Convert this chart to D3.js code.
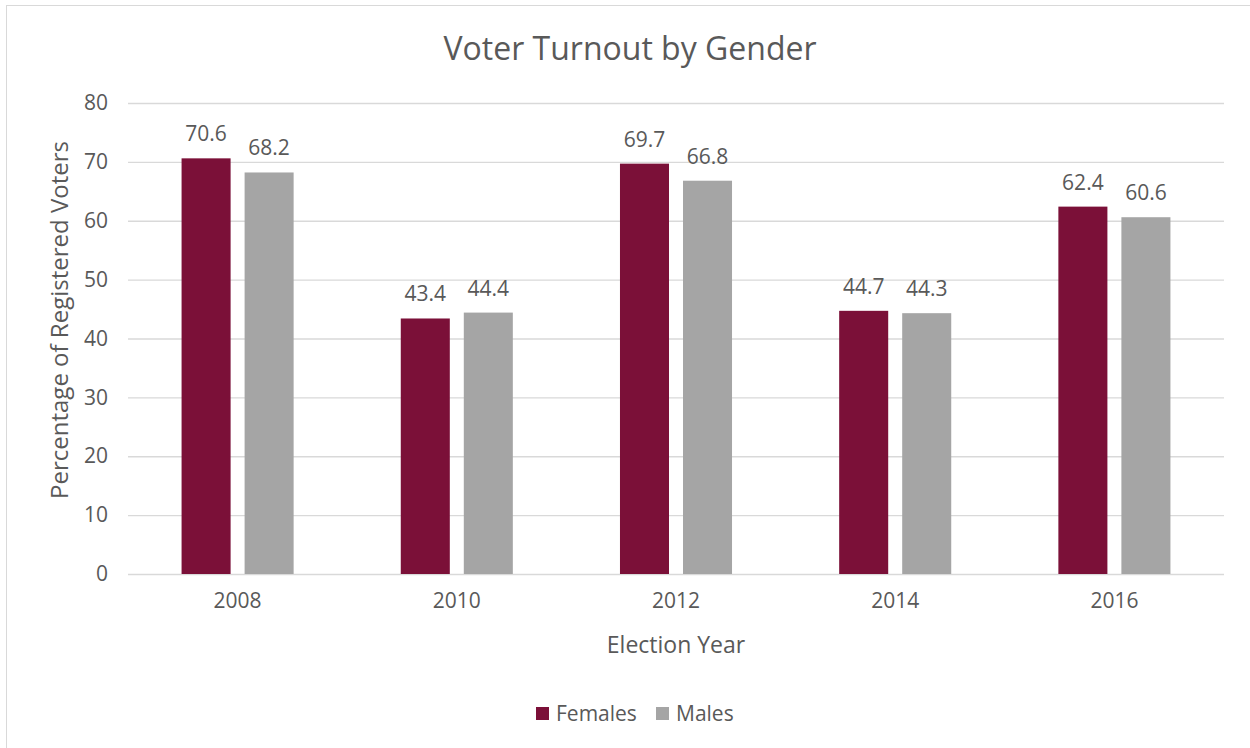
<!DOCTYPE html>
<html><head><meta charset="utf-8">
<script src="https://cdn.jsdelivr.net/npm/d3@7"></script>
<style>body{margin:0;background:#fff;}svg{display:block;font-family:"Open Sans",sans-serif;}</style>
</head><body><svg id="c" width="1250" height="748"></svg>
<script>
const years = ["2008","2010","2012","2014","2016"];
const seriesNames = ["Females","Males"];
const females = [70.6,43.4,69.7,44.7,62.4];
const males = [68.2,44.4,66.8,44.3,60.6];
const yTicks = [0,10,20,30,40,50,60,70,80];
const colors = ["#7B1038","#A5A5A5"];
const textColor = "#595959";

const svg = d3.select("#c");
svg.append("rect").attr("x",6.5).attr("y",5.5).attr("width",1260).attr("height",760)
  .attr("fill","#fff").attr("stroke","#d9d9d9");

const pLeft=128,pRight=1224,pTop=103,pBottom=574;
const x = d3.scaleBand().domain(years).range([pLeft,pRight]).paddingInner(0).paddingOuter(0);
const xs = d3.scaleBand().domain(seriesNames).range([0,x.bandwidth()]).paddingInner(0.222).paddingOuter(0.85);
const y = d3.scaleLinear().domain([0,80]).range([pBottom,pTop]);

// gridlines
svg.append("g").selectAll("line").data(yTicks).join("line")
  .attr("x1",pLeft).attr("x2",pRight).attr("y1",d=>y(d)+0.5).attr("y2",d=>y(d)+0.5)
  .attr("stroke","#d9d9d9").attr("stroke-width",1.3);

// y axis labels
const yAxis = d3.axisLeft(y).tickValues(yTicks).tickSize(0).tickPadding(0);
const gy = svg.append("g").attr("transform",`translate(${pLeft-20},0)`).call(yAxis);
gy.select(".domain").remove();
gy.selectAll("text").attr("fill",textColor).style("font-size","21px").style("font-family","'Open Sans',sans-serif");

// x axis labels
const xAxis = d3.axisBottom(x).tickSize(0).tickPadding(0);
const gx = svg.append("g").attr("transform",`translate(0,${pBottom+19})`).call(xAxis);
gx.select(".domain").remove();
gx.selectAll("text").attr("fill",textColor).style("font-size","21px").style("font-family","'Open Sans',sans-serif");

const data = years.map((yr,i)=>({year:yr, vals:[{s:"Females",v:females[i]},{s:"Males",v:males[i]}]}));
const groups = svg.append("g").selectAll("g").data(data).join("g")
  .attr("transform",d=>`translate(${x(d.year)},0)`);
groups.selectAll("rect").data(d=>d.vals).join("rect")
  .attr("x",d=>xs(d.s)).attr("width",xs.bandwidth())
  .attr("y",d=>y(d.v)).attr("height",d=>y(0)-y(d.v))
  .attr("fill",(d,i)=>colors[i]);
groups.selectAll("text").data(d=>d.vals).join("text")
  .attr("x",d=>xs(d.s)+xs.bandwidth()/2).attr("y",d=>y(d.v)-17)
  .attr("text-anchor","middle").attr("fill",textColor).style("font-size","21px")
  .text(d=>d.v.toFixed(1));

// title
svg.append("text").attr("x",630).attr("y",60).attr("text-anchor","middle")
  .attr("fill",textColor).style("font-size","32px").text("Voter Turnout by Gender");
// axis titles
svg.append("text").attr("x",676).attr("y",653).attr("text-anchor","middle")
  .attr("fill",textColor).style("font-size","23px").text("Election Year");
svg.append("text").attr("transform","translate(68,320) rotate(-90)").attr("text-anchor","middle")
  .attr("fill",textColor).style("font-size","24px").text("Percentage of Registered Voters");

// legend
const legend = svg.append("g");
const legX = [536,656];
seriesNames.forEach((s,i)=>{
  legend.append("rect").attr("x",legX[i]).attr("y",707).attr("width",13).attr("height",13).attr("fill",colors[i]);
  legend.append("text").attr("x",legX[i]+20).attr("y",721).attr("fill",textColor).style("font-size","21px").text(s);
});
</script></body></html>
